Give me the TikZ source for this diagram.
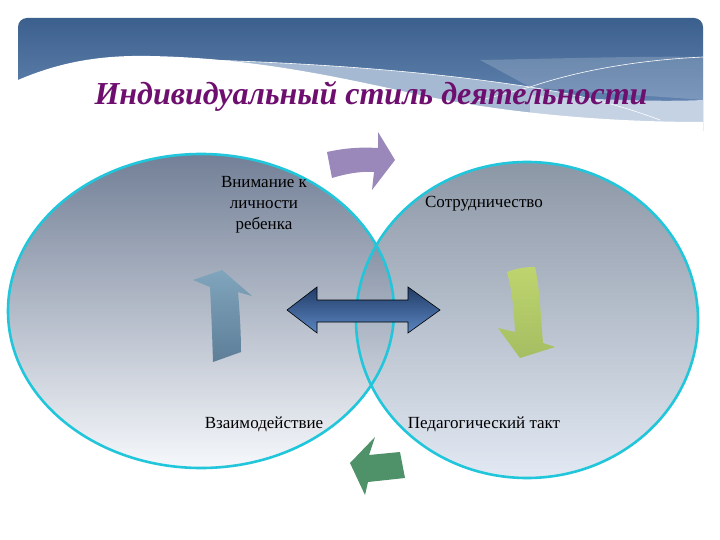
\documentclass[tikz,border=0pt]{standalone}
\usepackage{fontspec}
\setmainfont{Liberation Serif}
\definecolor{ringcyan}{HTML}{22C6DB}
\definecolor{titlepurple}{HTML}{6E0F70}
\definecolor{bantop}{RGB}{60,96,142}
\definecolor{banbot}{RGB}{112,145,188}
\definecolor{bandA}{RGB}{165,185,210}
\definecolor{bandB}{RGB}{196,210,228}
\definecolor{rtop}{RGB}{140,151,166}
\definecolor{rbot}{RGB}{226,233,243}
\definecolor{ltop}{RGB}{84,100,128}
\definecolor{lbot}{RGB}{244,247,251}
\definecolor{purparrow}{RGB}{155,136,186}
\definecolor{gtop}{RGB}{190,212,110}
\definecolor{gbot}{RGB}{165,190,98}
\definecolor{utop}{RGB}{128,165,188}
\definecolor{ubot}{RGB}{94,126,152}
\definecolor{darkgreen}{RGB}{79,145,105}
\definecolor{dtop}{RGB}{34,60,102}
\definecolor{dbot}{RGB}{90,134,194}
\begin{document}
\begin{tikzpicture}[x=1pt,y=-1pt,
  lbl/.style={font=\fontsize{17}{20}\selectfont, text=black, inner sep=0pt, align=center},
  ring/.style={draw=ringcyan, line width=2.6pt},
  bline/.style={draw=white, line width=0.6pt}]
\useasboundingbox (0,0) rectangle (720,540);
\fill[white] (0,0) rectangle (720,540);
% banner
\begin{scope}
\clip[rounded corners=9pt] (18,18) rectangle (703,140);
\shade[top color=bantop, bottom color=banbot] (18,18) rectangle (703,140);
\fill[white, opacity=0.18] (480,60) .. controls (580,58) and (650,56) .. (703,57) -- (703,100) .. controls (640,95) and (580,92) .. (530,87) -- cycle;
\fill[bandA] (170,59) .. controls (300,62) and (420,70) .. (530,87) .. controls (580,95) and (620,105) .. (650,117) -- (650,140) -- (170,140) -- cycle;
\fill[bandB] (530,95) .. controls (600,100) and (660,102) .. (703,100) -- (703,140) -- (530,140) -- cycle;
\fill[white] (18,80) .. controls (60,62) and (100,55) .. (150,56) .. controls (250,58) and (330,75) .. (420,95) .. controls (500,112) and (600,122) .. (703,122) -- (703,140) -- (18,140) -- cycle;
\draw[bline] (170,59) .. controls (300,62) and (420,70) .. (530,87) .. controls (580,95) and (620,105) .. (660,120);
\draw[bline] (703,57) .. controls (640,60) and (580,70) .. (530,87) .. controls (490,98) and (460,105) .. (430,115);
\end{scope}
\fill[white] (18,122) rectangle (703,140);
\node[inner sep=0pt, text=titlepurple, font=\fontsize{32}{36}\selectfont\bfseries\itshape] (title) at (371,96) {Индивидуальный стиль деятельности};
% circles
\shade[top color=rtop, bottom color=rbot] (527,320) ellipse (171 and 158);
\shade[top color=ltop, bottom color=lbot, fill opacity=0.82] (201,311) ellipse (193 and 157);
\draw[ring] (527,320) ellipse (171 and 158);
\draw[ring] (201,311) ellipse (193 and 157);
% arrows
\fill[purparrow] (327,152) .. controls (345,148) and (360,147) .. (378,148) -- (378,132) -- (395,160) -- (372,190) -- (374,172) .. controls (360,171) and (345,174) .. (332,178) -- cycle;
\shade[top color=gtop, bottom color=gbot] (507,272) .. controls (517,268) and (526,267) .. (535,267) .. controls (540,290) and (541,320) .. (543,343) -- (555,347) -- (520,358) -- (498,328) -- (515,332) .. controls (514,310) and (512,290) .. (507,272) -- cycle;
\shade[top color=utop, bottom color=ubot] (213,362) .. controls (212,330) and (211,305) .. (210,287) -- (193,280) -- (222,270) -- (252,296) -- (238,292) .. controls (240,315) and (241,335) .. (241,352) -- cycle;
\fill[darkgreen] (350,463) -- (375,437) -- (369,455) -- (400,452) -- (405,478) -- (368,482) -- (365,495) -- cycle;
\shade[top color=dtop, bottom color=dbot, draw=black, line width=0.6pt] (287,310) -- (317,287) -- (317,300) -- (408,300) -- (408,287) -- (440,310) -- (408,333) -- (408,322) -- (317,322) -- (317,333) -- cycle;
% labels
\node[lbl] (att) at (264,205) {Внимание к\\[1pt]личности\\[1pt]ребенка};
\node[lbl] (coop) at (484,204) {Сотрудничество};
\node[lbl] (inter) at (264,424) {Взаимодействие};
\node[lbl] (tact) at (484,424) {Педагогический такт};
\end{tikzpicture}
\end{document}
